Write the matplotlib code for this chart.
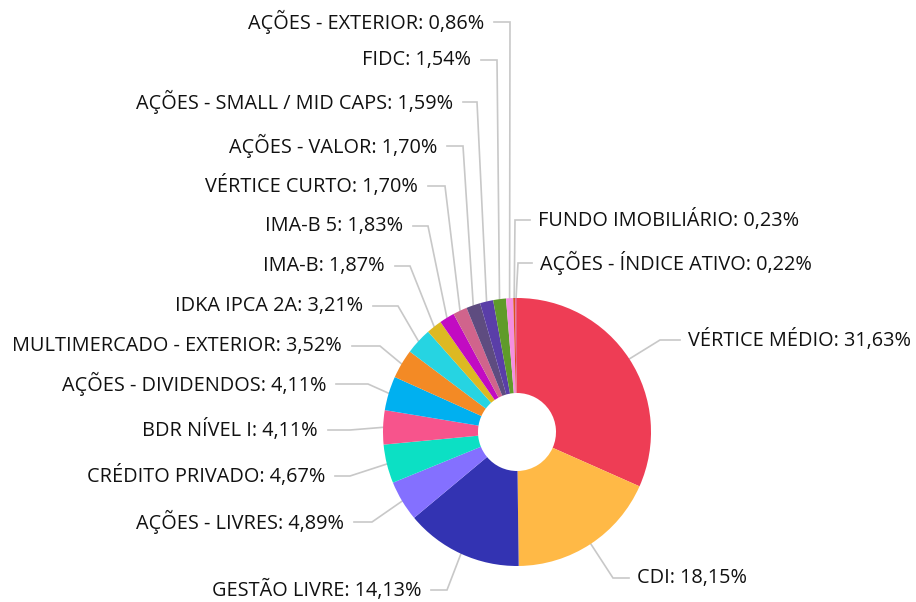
import matplotlib
matplotlib.use("Agg")
import matplotlib.pyplot as plt
import numpy as np

categories = ["VÉRTICE MÉDIO", "CDI", "GESTÃO LIVRE", "AÇÕES - LIVRES", "CRÉDITO PRIVADO",
              "BDR NÍVEL I", "AÇÕES - DIVIDENDOS", "MULTIMERCADO - EXTERIOR", "IDKA IPCA 2A",
              "IMA-B", "IMA-B 5", "VÉRTICE CURTO", "AÇÕES - VALOR", "AÇÕES - SMALL / MID CAPS",
              "FIDC", "AÇÕES - EXTERIOR", "FUNDO IMOBILIÁRIO", "AÇÕES - ÍNDICE ATIVO"]
values = [31.63, 18.15, 14.13, 4.89, 4.67, 4.11, 4.11, 3.52, 3.21,
          1.87, 1.83, 1.70, 1.70, 1.59, 1.54, 0.86, 0.23, 0.22]
colors = ["#EE3D55", "#FFB946", "#3333B2", "#8470FF", "#0CE0C4", "#F7548C", "#00B0F0",
          "#F38A25", "#26D4E2", "#DDB922", "#C20BC2", "#D0648C", "#5E4C80", "#5A3EA8",
          "#5F9B2A", "#F48EE0", "#D9531E", "#E45C8A"]

# label layout (pixel coordinates, y from top): label y, elbow x, text anchor x
label_y = [340, 578, 590, 522, 476, 430, 384, 346, 306, 266, 226, 186, 146, 102, 60, 22, 220, 263]
elbow_x = [660, 613, 447, 372, 350, 350, 368, 380, 398, 410, 428, 445, 463, 477, 497, 510, 515, 518]
text_x = [688, 637, 421, 344, 325, 318, 326, 342, 363, 385, 403, 418, 437, 453, 471, 484, 538, 540]
side = ["R", "R", "L", "L", "L", "L", "L", "L", "L", "L", "L", "L", "L", "L", "L", "L", "R", "R"]

W, H = 916, 602
cx, cy, R, r_in = 517, 432, 134, 39

plt.rcParams['font.family'] = ['Open Sans', 'DejaVu Sans']
fig = plt.figure(figsize=(W / 100, H / 100), dpi=100)
ax = fig.add_axes([0, 0, 1, 1])

def fy(y):
    return H - y

ax.pie(values, colors=colors, startangle=90, counterclock=False,
       center=(cx, fy(cy)), radius=R, frame=True,
       wedgeprops=dict(width=R - r_in, linewidth=0))
ax.set_xlim(0, W)
ax.set_ylim(0, H)
ax.set_aspect('equal')
ax.axis('off')

total = sum(values)
cum = 0.0
line_col = "#C8C8C8"
for i, v in enumerate(values):
    mid = (cum + v / 2) / total * 2 * np.pi
    cum += v
    px = cx + R * np.sin(mid)
    py = cy - R * np.cos(mid)
    ly = label_y[i]
    ex = elbow_x[i]
    if side[i] == "L":
        hx = text_x[i] + 10
        ha = "right"
    else:
        hx = text_x[i] - 8
        ha = "left"
    ax.plot([px, ex, hx], [fy(py), fy(ly), fy(ly)], color=line_col, lw=1.2,
            solid_joinstyle='miter', zorder=0)
    lbl = f"{categories[i]}: {v:.2f}%".replace(".", ",")
    ax.text(text_x[i], fy(ly), lbl, ha=ha, va="center", fontsize=14.3, color="#111111")

fig.savefig("out.png", dpi=100, facecolor="white")
